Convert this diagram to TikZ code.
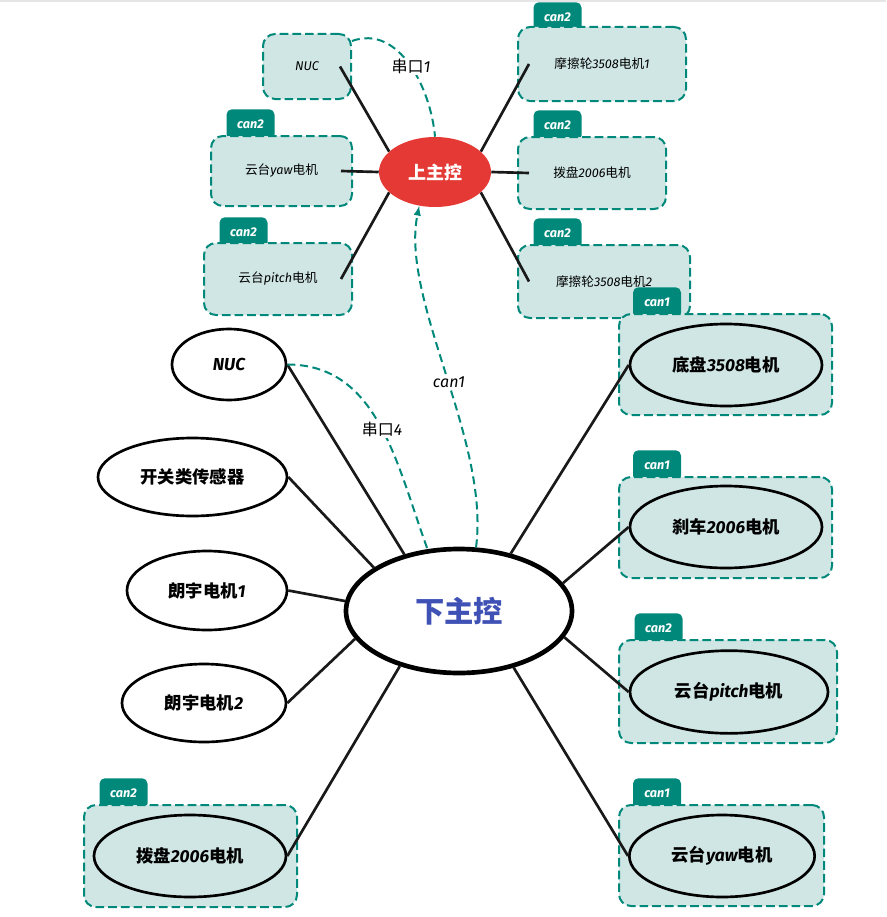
\documentclass[tikz,border=0pt]{standalone}
\usepackage{fontspec}
\setmainfont{Noto Sans CJK SC}
\newfontfamily\latin{Fira Sans}
\newcommand{\hw}[1]{{\latin\itshape #1}}
\usetikzlibrary{arrows,shapes.geometric}
\definecolor{canteal}{HTML}{00897B}
\definecolor{canfill}{HTML}{CFE6E4}
\definecolor{upred}{HTML}{E53935}
\definecolor{loblue}{HTML}{3F51B5}

\begin{document}
\begin{tikzpicture}[x=0.75pt, y=-0.75pt,
  wire/.style={line width=2pt, black!90},
  link/.style={canteal, line width=1.5pt, dash pattern=on 6pt off 3.5pt},
  grp/.style={draw=canteal, fill=canfill, line width=1.5pt, dash pattern=on 6.5pt off 3pt, rounded corners=9pt, inner sep=0pt},
  tab/.style={fill=canteal, text=white, rounded corners=4pt, anchor=north, minimum width=36pt, minimum height=23pt, inner sep=0pt, font=\fontsize{9.5}{11}\selectfont\bfseries},
  part/.style={ellipse, draw, line width=2pt, inner sep=0pt, font=\fontsize{13}{15}\selectfont\bfseries},
  txt/.style={font=\fontsize{9.5}{12}\selectfont},
  tag/.style={fill=white, text=black, inner sep=1pt, font=\fontsize{12}{14}\selectfont}]
\useasboundingbox (0,0) rectangle (886,917);
\draw [black!10, line width=1.5pt] (0,1) -- (886,1);

% upper board
\node (tYaw) at (250.5,109) [tab] {\hw{can2}};
\node (tPit) at (243.5,217) [tab] {\hw{can2}};
\node (tFr1) at (557.5,2) [tab] {\hw{can2}};
\node (tDial) at (557.5,110) [tab] {\hw{can2}};
\node (tFr2) at (557.5,218) [tab] {\hw{can2}};

\node (nucT) at (307,66.5) [grp, txt, minimum width=66pt, minimum height=48.75pt] {\hw{NUC}};
\node (yawT) at (281.5,171) [grp, txt, minimum width=105.75pt, minimum height=52.5pt] {云台\hw{yaw}电机};
\node (pitT) at (278,279) [grp, txt, minimum width=111pt, minimum height=54pt] {云台\hw{pitch}电机};
\node (fr1) at (602,64) [grp, txt, minimum width=126pt, minimum height=55.5pt] {摩擦轮\hw{3508}电机\hw{1}};
\node (dial) at (592,173) [grp, txt, minimum width=111pt, minimum height=54pt] {拨盘\hw{2006}电机};
\node (fr2) at (604,281.5) [grp, txt, minimum width=129pt, minimum height=54.75pt] {摩擦轮\hw{3508}电机\hw{2}};

\node (up) at (435,172) [ellipse, fill=upred, text=white, minimum width=84pt, minimum height=52.5pt, inner sep=0pt, font=\fontsize{13.5}{16}\selectfont\bfseries] {上主控};

\draw [wire] (up.156) -- ([xshift=-9pt]nucT.east);
\draw [wire] (up.west) -- ([xshift=-9pt]yawT.east);
\draw [wire] (up.204) -- ([xshift=-9pt]pitT.east);
\draw [wire] (up.24) -- ([xshift=9pt]fr1.west);
\draw [wire] (up.east) -- ([xshift=9pt]dial.west);
\draw [wire] (up.-24) -- ([xshift=9pt]fr2.west);

% lower board
\node (tDialB) at (123.5,778) [tab] {\hw{can2}};
\node (tChas) at (657,287) [tab] {\hw{can1}};
\node (tBrk) at (657,450) [tab] {\hw{can1}};
\node (tPitB) at (658.5,613) [tab] {\hw{can2}};
\node (tYawB) at (657,778) [tab] {\hw{can1}};

\node (gDial) at (190.5,856) [grp, minimum width=159.75pt, minimum height=76.5pt] {};
\node (gChas) at (725.5,364.5) [grp, minimum width=159.75pt, minimum height=75.75pt] {};
\node (gBrk) at (725.5,527.5) [grp, minimum width=159.75pt, minimum height=75.75pt] {};
\node (gPit) at (728,691.5) [grp, minimum width=163.5pt, minimum height=77.25pt] {};
\node (gYaw) at (721.5,855.5) [grp, minimum width=153.75pt, minimum height=75.75pt] {};

\node (nucB) at (229,364.5) [part, minimum width=85.5pt, minimum height=53.25pt] {\hw{NUC}};
\node (sw) at (192.5,477) [part, minimum width=141.75pt, minimum height=58.5pt] {开关类传感器};
\node (ly1) at (207,590.5) [part, minimum width=120pt, minimum height=59.25pt] {朗宇电机\hw{1}};
\node (ly2) at (204,703) [part, minimum width=123pt, minimum height=58.5pt] {朗宇电机\hw{2}};
\node (dialB) at (190,856) [part, minimum width=144pt, minimum height=61.5pt] {拨盘\hw{2006}电机};
\node (chas) at (726,365) [part, minimum width=144pt, minimum height=61.5pt] {底盘\hw{3508}电机};
\node (brk) at (726,527) [part, minimum width=144pt, minimum height=61.5pt] {刹车\hw{2006}电机};
\node (pitB) at (729,692) [part, minimum width=148.5pt, minimum height=62pt] {云台\hw{pitch}电机};
\node (yawB) at (722,856) [part, minimum width=139pt, minimum height=61.5pt] {云台\hw{yaw}电机};

\node (lo) at (459,611) [part, line width=3.5pt, minimum width=169.5pt, minimum height=93pt, text=loblue, font=\fontsize{22}{26}\selectfont\bfseries] {下主控};

\draw [wire] (lo.134) -- (nucB.east);
\draw [wire] (lo.153) -- (sw.east);
\draw [wire] (lo.175) -- (ly1.east);
\draw [wire] (lo.195) -- (ly2.east);
\draw [wire] (lo.223) -- (dialB.east);
\draw [wire] (lo.48) -- (chas.west);
\draw [wire] (lo.15) -- (brk.west);
\draw [wire] (lo.-14) -- (pitB.west);
\draw [wire] (lo.-46) -- (yawB.west);

% serial and can links
\draw [link] ([yshift=-6pt]nucT.north east) to[out=20, in=95] node[tag, pos=0.52] {串口\hw{1}} (up.north);
\draw [link] (nucB.east) to[out=0, in=110] node[tag, pos=0.52] {串口\hw{4}} (lo.117);
\draw [link, -latex] (lo.75) .. controls (490,440) and (400,300) .. node[tag, pos=0.47] {\hw{can1}} (up.245);
\end{tikzpicture}
\end{document}
